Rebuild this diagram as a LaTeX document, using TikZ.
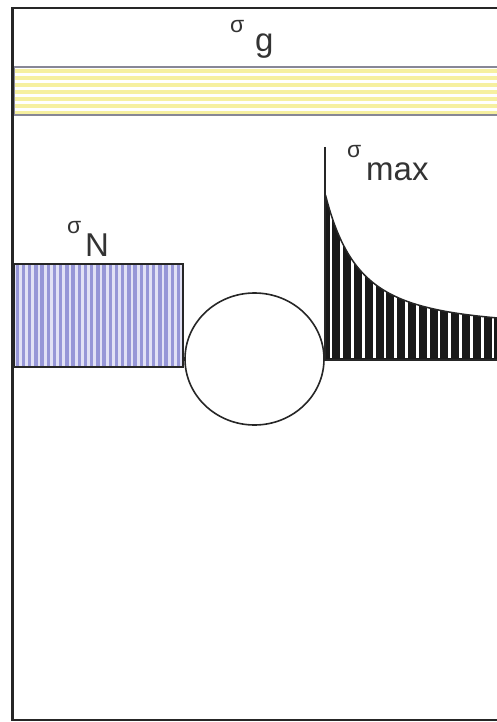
\documentclass[tikz,border=0pt]{standalone}
\usepackage{fontspec}
\setmainfont{Liberation Sans}
\usepackage{tikz}
\usetikzlibrary{positioning}
\definecolor{barfill}{RGB}{246,240,160}
\definecolor{barline}{RGB}{135,135,150}
\definecolor{lavender}{RGB}{150,150,215}
\definecolor{lavenderlight}{RGB}{225,225,245}
\tikzset{
	frameline/.style={line width=2.5pt, draw=black!85},
	sigmalabel/.style={inner sep=0pt, anchor=base west, font=\fontsize{23}{23}\selectfont, text=black!80},
	indexlabel/.style={inner sep=0pt, anchor=base west, font=\fontsize{33}{33}\selectfont, text=black!80}
}

\begin{document}
\begin{tikzpicture}[
		x=1pt, y=-1pt,
		outline/.style={line width=1.5pt, draw=black!85},
		barstripe/.style={fill=barfill},
		netstripe/.style={fill=lavender},
		peakstripe/.style={draw=white, line width=2.8pt}
		]
		\useasboundingbox (0,0) rectangle (497,722);
		\fill[white] (0,0) rectangle (497,722);
		
		% plate border
		\draw[frameline] (497,8) -- (12.5,8) -- (12.5,720) -- (497,720);
		
		% gross stress
		\foreach \k in {0,...,6}
			\fill[barstripe] (14,{69.5+7*\k}) rectangle (497,{73+7*\k});
		\draw[line width=1.6pt, draw=barline] (497,67) -- (14.5,67) -- (14.5,115) -- (497,115);
		\node[sigmalabel] (sg) at (230,33) {σ};
		\node[indexlabel] (g) at (255,52) {g};
		
		% net section stress
		\fill[lavenderlight] (14,264) rectangle (183,367);
		\foreach \k in {0,...,26}
			\fill[netstripe] ({15.5+6.2*\k},264) rectangle ({18.9+6.2*\k},367);
		\draw[outline] (14,264) rectangle (183,367);
		\node[sigmalabel] (sn) at (67,233) {σ};
		\node[indexlabel] (n) at (85,256) {N};
		
		% hole
		\draw[line width=1.6pt, draw=black!85] (254.5,359) ellipse [x radius=69.5pt, y radius=66pt];
		
		% peak stress at the hole edge
		\begin{scope}
			\clip (325,360) -- plot[domain=325.5:497, samples=90] (\x,{328-131*(71.5/(\x-254.5))^2.1}) -- (497,360) -- cycle;
			\fill[black!90] (320,150) rectangle (497,362);
			\foreach \k in {0,...,15}
				\draw[peakstripe] ({331+10.8*\k},150) -- ({331+10.8*\k},358);
		\end{scope}
		\draw[outline] plot[domain=325.5:497, samples=90] (\x,{328-131*(71.5/(\x-254.5))^2.1});
		\draw[outline] (325,360) -- (497,360);
		\draw[line width=2pt, draw=black!85] (325,147) -- (325,360);
		\node[sigmalabel] (smax) at (347,158) {σ};
		\node[indexlabel] (mx) at (366,180) {max};
		
	\end{tikzpicture}
\end{document}
